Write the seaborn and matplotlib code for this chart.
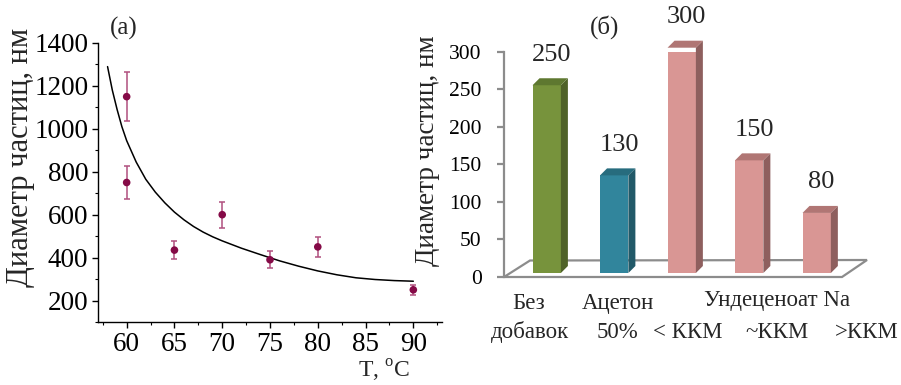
import matplotlib
matplotlib.use("Agg")
import matplotlib.pyplot as plt
import numpy as np
import pandas as pd
import seaborn as sns
from matplotlib.patches import Polygon
from matplotlib.transforms import IdentityTransform, offset_copy
from matplotlib.ticker import MultipleLocator

sns.set_theme(style="ticks")
plt.rcParams["font.family"] = ["Liberation Serif", "DejaVu Serif"]
plt.rcParams["mathtext.fontset"] = "custom"
plt.rcParams["mathtext.rm"] = "Liberation Serif"

# ---- (а) particle diameter vs temperature ----
temp = [60, 60, 65, 70, 75, 80, 90]
diam = [1150, 750, 435, 600, 390, 450, 250]
diam_err = [115, 75, 43, 60, 40, 45, 23]

# fitted trend line
fit_t = [58, 58.5, 59, 59.5, 60, 61, 62, 63, 64, 65, 66, 67, 68, 69, 70,
         72, 74, 76, 78, 80, 82, 84, 86, 88, 90]
fit_d = [1290, 1180, 1090, 1010, 945, 845, 765, 705, 655, 612, 576, 545,
         519, 497, 478, 444, 414, 385, 360, 338, 320, 306, 298, 293, 290]

# ---- (б) particle diameter by additive ----
groups = ["Без добавок", "Ацетон 50%", "< ККМ", "~ККМ", ">ККМ"]
sizes = [250, 130, 300, 150, 80]

front_pal = ["#77933C", "#31859C", "#D99694", "#D99694", "#D99694"]
side_pal = ["#4F6228", "#215968", "#8E5F5E", "#8E5F5E", "#8E5F5E"]
top_pal = ["#5E7830", "#276C7E", "#B07674", "#B07674", "#B07674"]

W, H, DPI = 901, 385, 100
fig = plt.figure(figsize=(W / DPI, H / DPI), dpi=DPI)
fig.patch.set_facecolor("white")


def px_rect(left, top, right, bottom):
    return [left / W, 1 - bottom / H, (right - left) / W, (bottom - top) / H]


# ================= panel (а) =================
ax1 = fig.add_axes(px_rect(98, 43, 442, 322))
sns.lineplot(x=fit_t, y=fit_d, ax=ax1, color="black", lw=1.1,
             estimator=None, sort=False)
ax1.errorbar(temp, diam, yerr=diam_err, fmt="none", ecolor="#B0507F",
             elinewidth=1.1, capsize=2.2, capthick=1.1, zorder=2)
sns.scatterplot(x=temp, y=diam, ax=ax1, color="#850A47", s=30,
                edgecolor="none", zorder=3)

ax1.set_xlim(57, 93)
ax1.set_ylim(100, 1400)
ax1.xaxis.set_major_locator(MultipleLocator(5))
ax1.xaxis.set_minor_locator(MultipleLocator(2.5))
ax1.yaxis.set_major_locator(MultipleLocator(200))
ax1.yaxis.set_minor_locator(MultipleLocator(100))
for s in ("top", "right"):
    ax1.spines[s].set_visible(False)
for s in ("left", "bottom"):
    ax1.spines[s].set_color("black")
    ax1.spines[s].set_linewidth(1.0)
ax1.tick_params(which="major", direction="out", length=4, width=1,
                color="black", labelsize=19.5, pad=3, labelcolor="black")
ax1.tick_params(which="minor", direction="out", length=2.5, width=0.8,
                color="black")
ax1.set_xlabel("")
ax1.set_ylabel("")
ax1.set_facecolor("white")

fig.text(21 / W, 1 - 157 / H, "Диаметр частиц, нм", rotation=90,
         ha="center", va="center", fontsize=22)
fig.text(110 / W, 1 - 28 / H, "(а)", ha="left", va="center", fontsize=18)
fig.text(410 / W, 1 - 378 / H, r"T, $^{\mathrm{o}}$C", ha="right",
         va="baseline", fontsize=17)

# ================= panel (б) =================
ax2 = fig.add_axes(px_rect(504, 51.7, 842, 277))
df = pd.DataFrame({"group": groups, "size": sizes})
sns.barplot(data=df, x="group", y="size", hue="group", palette=front_pal,
            width=0.42, saturation=1, edgecolor="none", legend=False,
            ax=ax2, zorder=2)
ax2.set_xlim(-0.544, 4.464)
ax2.set_ylim(0, 300)
ax2.yaxis.set_major_locator(MultipleLocator(50))
ax2.set_facecolor("none")

bars = sorted(ax2.patches, key=lambda p: p.get_x())

# floor of the 3-D box
fl, fr = ax2.transData.transform([(-0.544, 0), (4.464, 0)])
floor = Polygon([fl, fr, fr + (25, 17), fl + (26, 16.5)], closed=True,
                facecolor="white", edgecolor="#8C8C8C", lw=1.6,
                transform=IdentityTransform(), zorder=0.5, clip_on=False)
ax2.add_patch(floor)

# push bars into the depth and add side/top faces
bar_shift = (6, 4)
depth = np.array([7.0, 7.0])
for i, p in enumerate(bars):
    p.set_transform(offset_copy(ax2.transData, fig=fig, x=bar_shift[0],
                                y=bar_shift[1], units="dots"))
    x0, w, h = p.get_x(), p.get_width(), p.get_height()
    bl, br, tr, tl = ax2.transData.transform(
        [(x0, 0), (x0 + w, 0), (x0 + w, h), (x0, h)]) + np.array(bar_shift)
    side = Polygon([br, tr, tr + depth, br + depth], closed=True,
                   facecolor=side_pal[i], edgecolor="none",
                   transform=IdentityTransform(), zorder=2, clip_on=False)
    top = Polygon([tl, tr, tr + depth, tl + depth], closed=True,
                  facecolor=top_pal[i], edgecolor="none",
                  transform=IdentityTransform(), zorder=2, clip_on=False)
    ax2.add_patch(side)
    ax2.add_patch(top)
    ax2.annotate(str(sizes[i]), xy=(i, sizes[i]),
                 xytext=(11 * 0.72, 34.5 * 0.72), textcoords="offset points",
                 ha="center", va="center", fontsize=19, annotation_clip=False)

for s in ("top", "right", "bottom"):
    ax2.spines[s].set_visible(False)
ax2.spines["left"].set_color("#8C8C8C")
ax2.spines["left"].set_linewidth(1.6)
ax2.tick_params(axis="y", direction="out", length=5, width=1.6,
                color="#8C8C8C", labelsize=15.5, pad=11, labelcolor="black")
ax2.tick_params(axis="x", bottom=False, labelbottom=False)
ax2.set_xlabel("")
ax2.set_ylabel("")

# category captions (two rows)
row1 = [("Без", 529, 309), ("Ацетон", 618, 309), ("Ундеценоат Na", 777, 306)]
row2 = [("добавок", 530, 338), ("50%", 617.5, 338), ("< ККМ", 688, 338),
        ("~ККМ", 776.7, 338), (">ККМ", 866.7, 338)]
for txt, x, y in row1 + row2:
    fig.text(x / W, 1 - y / H, txt, ha="center", va="baseline",
             fontsize=16.5)

fig.text(428 / W, 1 - 151 / H, "Диаметр частиц, нм", rotation=90,
         ha="center", va="center", fontsize=19.5)
fig.text(590 / W, 1 - 27 / H, "(б)", ha="left", va="center", fontsize=18)

fig.savefig("out.png", dpi=DPI, facecolor="white")
